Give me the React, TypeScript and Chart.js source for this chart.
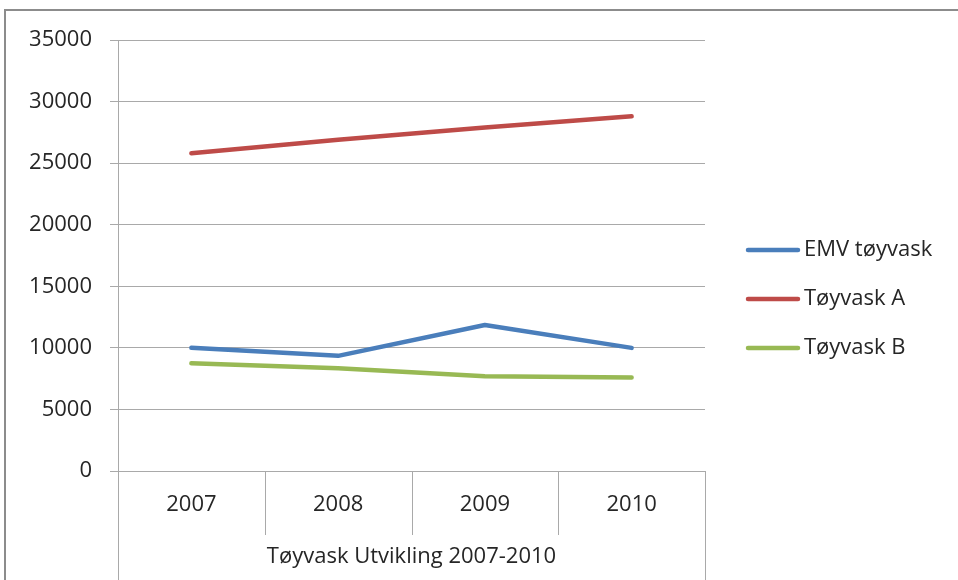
import React, { useEffect, useRef } from "react";
import { Chart, registerables } from "chart.js";

Chart.register(...registerables);

// Years on the category axis
const years = ["2007", "2008", "2009", "2010"];

// Series values per year
const emvValues = [10000, 9350, 11850, 10000];
const tovyaskAValues = [25800, 26900, 27900, 28800];
const tovyaskBValues = [8750, 8350, 7700, 7600];

const seriesNames = ["EMV tøyvask", "Tøyvask A", "Tøyvask B"];
const axisTitle = "Tøyvask Utvikling 2007-2010";

const Y_MIN = 0;
const Y_MAX = 35000;
const Y_STEP = 5000;

const FONT_FAMILY = "'Open Sans', 'Noto Sans', sans-serif";
const FONT_SIZE = 22;
const TEXT_COLOR = "#262626";
const LINE_GRAY = "#a9a9a9";
const COLORS = ["#4a7ebb", "#be4b48", "#98b954"];
const SERIES_WIDTH = 4.5;

const CANVAS_W = 958;
const CANVAS_H = 580;

// Legend column to the right of the plot
const LEGEND_GAP = 43; // from plot edge to legend line start
const LEGEND_LINE_W = 50;
const LEGEND_TEXT_GAP = 6;
const LEGEND_FIRST_Y = 250;
const LEGEND_ROW_STEP = 49;

// Draws the category separators below the axis and the frame edges of the axis block.
const categoryFrame = {
  id: "categoryFrame",
  afterDraw(chart: any) {
    const { ctx, chartArea, scales } = chart;
    const x = scales.x;
    const bottom = chartArea.bottom;
    ctx.save();
    ctx.strokeStyle = LINE_GRAY;
    ctx.lineWidth = 1;
    const seg = (x0: number, y0: number, x1: number, y1: number) => {
      ctx.beginPath();
      ctx.moveTo(x0, y0);
      ctx.lineTo(x1, y1);
      ctx.stroke();
    };
    for (let i = 0; i < x.ticks.length - 1; i++) {
      const px = Math.round((x.getPixelForTick(i) + x.getPixelForTick(i + 1)) / 2) + 0.5;
      seg(px, bottom, px, bottom + 64);
    }
    const l = Math.round(chartArea.left) + 0.5;
    const r = Math.round(chartArea.right) + 0.5;
    seg(l, bottom, l, chart.height);
    seg(r, bottom, r, chart.height);
    ctx.restore();
  },
};

// Legend with line-style keys, one row per dataset.
const lineLegend = {
  id: "lineLegend",
  afterDraw(chart: any) {
    const { ctx, chartArea } = chart;
    const x0 = chartArea.right + LEGEND_GAP;
    ctx.save();
    ctx.font = `${FONT_SIZE}px ${FONT_FAMILY}`;
    ctx.textBaseline = "middle";
    ctx.textAlign = "left";
    chart.data.datasets.forEach((ds: any, i: number) => {
      const y = LEGEND_FIRST_Y + i * LEGEND_ROW_STEP;
      ctx.strokeStyle = ds.borderColor;
      ctx.lineWidth = ds.borderWidth;
      ctx.lineCap = "round";
      ctx.beginPath();
      ctx.moveTo(x0, y);
      ctx.lineTo(x0 + LEGEND_LINE_W, y);
      ctx.stroke();
      ctx.fillStyle = TEXT_COLOR;
      ctx.fillText(ds.label, x0 + LEGEND_LINE_W + LEGEND_TEXT_GAP, y);
    });
    ctx.restore();
  },
};

export default function App() {
  const canvasRef = useRef<HTMLCanvasElement | null>(null);

  useEffect(() => {
    const canvas = canvasRef.current;
    if (!canvas) return;

    const values = [emvValues, tovyaskAValues, tovyaskBValues];
    const chart = new Chart(canvas, {
      type: "line",
      data: {
        labels: years,
        datasets: seriesNames.map((name, i) => ({
          label: name,
          data: values[i],
          borderColor: COLORS[i],
          backgroundColor: COLORS[i],
          borderWidth: SERIES_WIDTH,
          borderCapStyle: "round",
          borderJoinStyle: "round",
          pointRadius: 0,
          pointHoverRadius: 0,
          tension: 0,
          fill: false,
        })),
      },
      options: {
        animation: false,
        responsive: false,
        devicePixelRatio: 1,
        layout: { padding: { top: 40, left: 0, right: 253, bottom: 0 } },
        plugins: {
          tooltip: { enabled: false },
          legend: { display: false },
        },
        scales: {
          x: {
            type: "category",
            offset: true,
            grid: { display: false, drawTicks: false },
            border: { display: true, color: LINE_GRAY, width: 1 },
            ticks: {
              padding: 21,
              color: TEXT_COLOR,
              font: { family: FONT_FAMILY, size: FONT_SIZE },
              maxRotation: 0,
            },
            title: {
              display: true,
              text: axisTitle,
              color: TEXT_COLOR,
              font: { family: FONT_FAMILY, size: FONT_SIZE },
              padding: { top: 0, bottom: 10 },
            },
            afterFit(scale: any) {
              scale.height = 109;
            },
          },
          y: {
            type: "linear",
            position: "left",
            min: Y_MIN,
            max: Y_MAX,
            grid: {
              color: LINE_GRAY,
              lineWidth: 1,
              drawTicks: true,
              tickLength: 8,
            },
            border: { display: true, color: LINE_GRAY, width: 1 },
            ticks: {
              stepSize: Y_STEP,
              padding: 18,
              color: TEXT_COLOR,
              font: { family: FONT_FAMILY, size: FONT_SIZE },
              callback: (v: any) => String(v),
            },
            afterFit(scale: any) {
              scale.width = 118;
            },
          },
        },
      },
      plugins: [categoryFrame, lineLegend],
    } as any);
    return () => chart.destroy();
  }, []);

  return (
    <div
      style={{
        position: "absolute",
        left: 0,
        top: 0,
        width: CANVAS_W,
        height: CANVAS_H,
        overflow: "hidden",
        background: "#ffffff",
      }}
    >
      <div
        style={{
          position: "absolute",
          left: 4,
          top: 9,
          width: 2000,
          height: 2000,
          borderTop: "2px solid #8c8c8c",
          borderLeft: "2px solid #8c8c8c",
        }}
      />
      <canvas
        ref={canvasRef}
        width={CANVAS_W}
        height={CANVAS_H}
        style={{ position: "absolute", left: 0, top: 0, width: CANVAS_W, height: CANVAS_H }}
      />
    </div>
  );
}
